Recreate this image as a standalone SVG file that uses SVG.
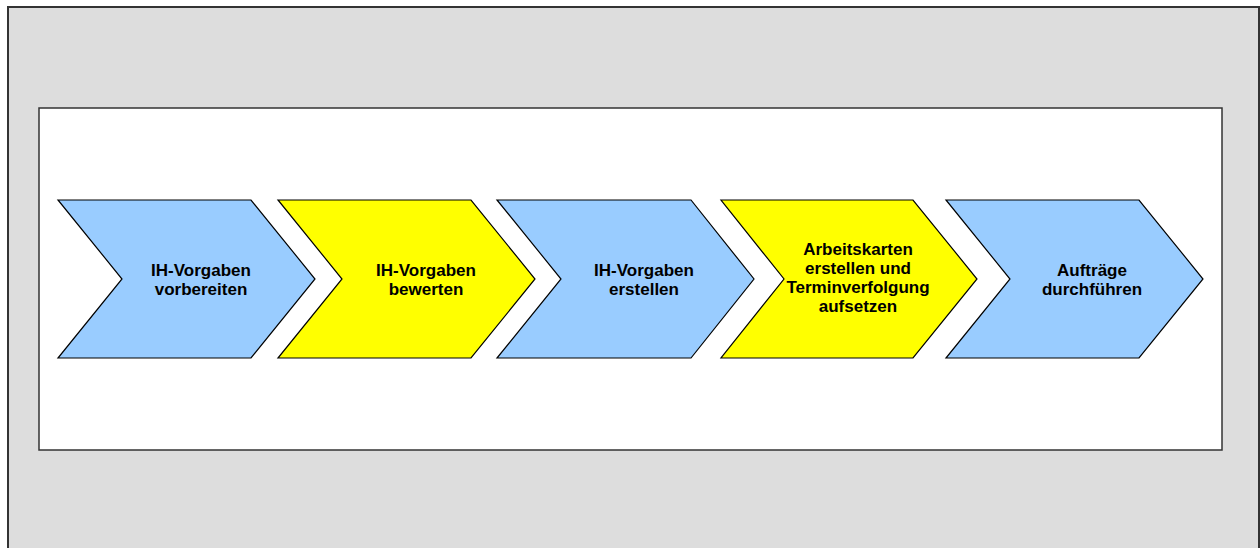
<svg xmlns="http://www.w3.org/2000/svg" width="1260" height="548" viewBox="0 0 1260 548">
<style>
.chev{stroke:#000;stroke-width:1.2;stroke-linejoin:miter}
.blue{fill:#99ccff}
.yellow{fill:#ffff00}
text{font-family:"Liberation Sans",Arial,sans-serif;font-weight:bold;font-size:17px;fill:#000;text-anchor:middle}
</style>
<rect x="8" y="7" width="1251" height="560" fill="#dddddd" stroke="#333" stroke-width="2"/>
<rect x="39" y="108" width="1183" height="342" fill="#fff" stroke="#333" stroke-width="1.5"/>
<g id="connectors"></g>
<g id="n1">
<polygon class="chev blue" points="58,200 251,200 315,279 251,358 58,358 122,279"/>
<text x="201" y="276">IH-Vorgaben</text>
<text x="201" y="295">vorbereiten</text>
</g>
<g id="n2">
<polygon class="chev yellow" points="278,200 471,200 535,279 471,358 278,358 342,279"/>
<text x="426" y="276">IH-Vorgaben</text>
<text x="426" y="295">bewerten</text>
</g>
<g id="n3">
<polygon class="chev blue" points="497,200 691,200 754,279 691,358 497,358 561,279"/>
<text x="644" y="276">IH-Vorgaben</text>
<text x="644" y="295">erstellen</text>
</g>
<g id="n4">
<polygon class="chev yellow" points="721,200 913,200 977,279 913,358 721,358 784,279"/>
<text x="858" y="255">Arbeitskarten</text>
<text x="858" y="274">erstellen und</text>
<text x="858" y="293">Terminverfolgung</text>
<text x="858" y="312">aufsetzen</text>
</g>
<g id="n5">
<polygon class="chev blue" points="946,200 1139,200 1203,279 1139,358 946,358 1010,279"/>
<text x="1092" y="276">Aufträge</text>
<text x="1092" y="295">durchführen</text>
</g>
</svg>
